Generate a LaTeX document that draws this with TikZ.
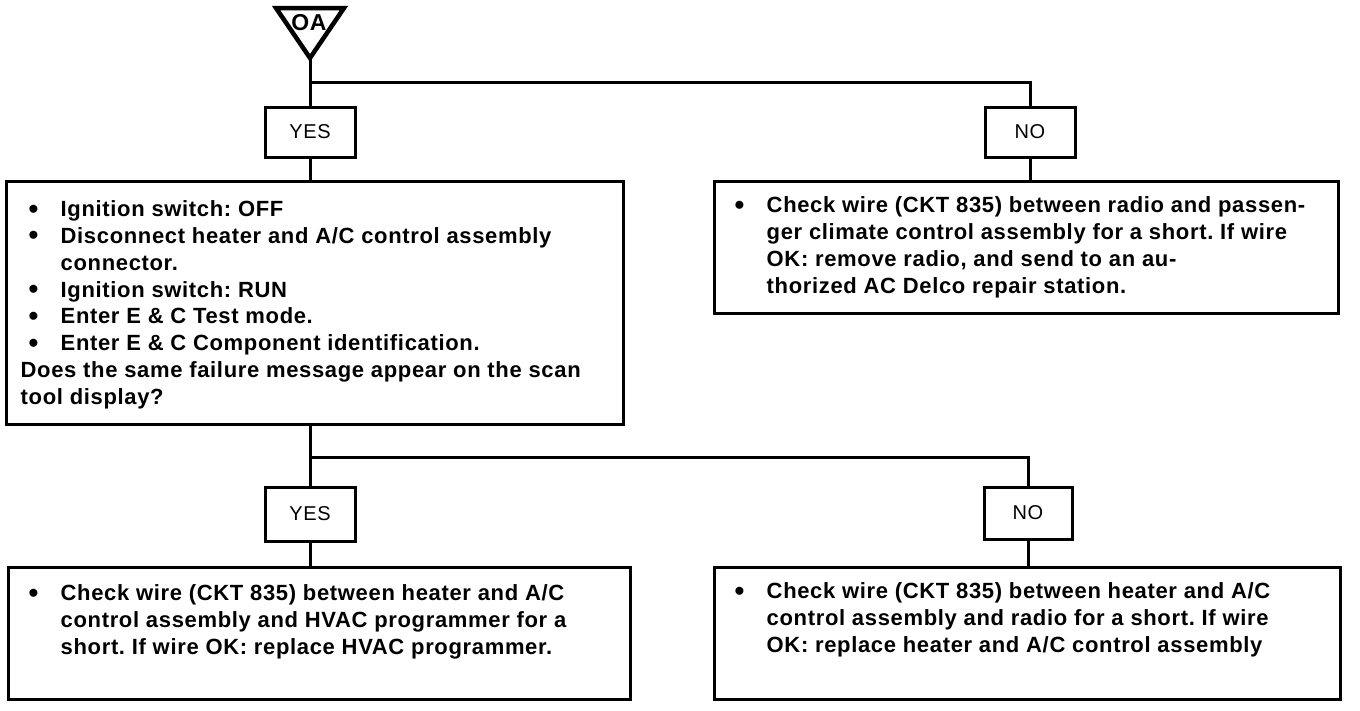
\documentclass[tikz,border=0pt]{standalone}
\usepackage{fontspec}
\setmainfont{Liberation Sans}[LetterSpace=3]
\frenchspacing
\newcommand{\bul}{\makebox[32pt][l]{\raisebox{-1.5pt}{\fontsize{28}{0}\selectfont\textbullet}}}
\newcommand{\hang}{\hspace*{32pt}}
\tikzset{
  box/.style={draw, line width=3pt, inner sep=0pt},
  answer/.style={box, minimum width=90, minimum height=50, font=\fontsize{20}{22}\selectfont},
  txt/.style={anchor=north west, inner sep=0pt, align=left, font=\fontsize{22}{26.8}\selectfont\bfseries},
  wire/.style={line width=3pt}
}
\begin{document}
\begin{tikzpicture}[x=1pt,y=-1pt]
\useasboundingbox (0,0) rectangle (1360,710);
% start marker
\draw[line width=4.5pt, line join=miter] (276,8) -- (344,8) -- (310,58) -- cycle;
\node[font=\fontsize{23}{23}\selectfont\bfseries] (start) at (309,23) {OA};
\coordinate (tip) at (310,58);
\coordinate (s1) at (310,82);
\coordinate (s2) at (310,457);
% answers
\node[answer] (yes1) at (310,132) {YES};
\node[answer, minimum width=90] (no1) at (1030,132) {NO};
\node[answer, minimum height=54] (yes2) at (310,514) {YES};
\node[answer, minimum width=88, minimum height=52] (no2) at (1028,513) {NO};
% boxes
\node[box, minimum width=617, minimum height=243] (ask) at (314.5,302.5) {};
\node[box, minimum width=624, minimum height=132] (radio) at (1026,247) {};
\node[box, minimum width=622, minimum height=132] (hvac) at (319,633) {};
\node[box, minimum width=626, minimum height=132] (hac) at (1027,633) {};
% texts
\node[txt] (askt) at ([shift={(16,21)}]ask.north west) {%
\hspace*{8pt}\bul Ignition switch: OFF\\
\hspace*{8pt}\bul Disconnect heater and A/C control assembly\\
\hspace*{8pt}\hang connector.\\
\hspace*{8pt}\bul Ignition switch: RUN\\
\hspace*{8pt}\bul Enter E \& C Test mode.\\
\hspace*{8pt}\bul Enter E \& C Component identification.\\
Does the same failure message appear on the scan\\
tool display?};
\node[txt] (radiot) at ([shift={(22,17)}]radio.north west) {%
\bul Check wire (CKT 835) between radio and passen-\\
\hang ger climate control assembly for a short. If wire\\
\hang OK: remove radio, and send to an au-\\
\hang thorized AC Delco repair station.};
\node[txt] (hvact) at ([shift={(22,19)}]hvac.north west) {%
\bul Check wire (CKT 835) between heater and A/C\\
\hang control assembly and HVAC programmer for a\\
\hang short. If wire OK: replace HVAC programmer.};
\node[txt] (hact) at ([shift={(22,17)}]hac.north west) {%
\bul Check wire (CKT 835) between heater and A/C\\
\hang control assembly and radio for a short. If wire\\
\hang OK: replace heater and A/C control assembly};
% connectors
\draw[wire] (tip) -- (yes1.north);
\draw[wire] (s1) -| (no1.north);
\draw[wire] (yes1.south) -- (yes1.south |- ask.north);
\draw[wire] (no1.south) -- (no1.south |- radio.north);
\draw[wire] (yes1.south |- ask.south) -- (yes2.north);
\draw[wire] (s2) -| (no2.north);
\draw[wire] (yes2.south) -- (yes2.south |- hvac.north);
\draw[wire] (no2.south) -- (no2.south |- hac.north);
\end{tikzpicture}
\end{document}
